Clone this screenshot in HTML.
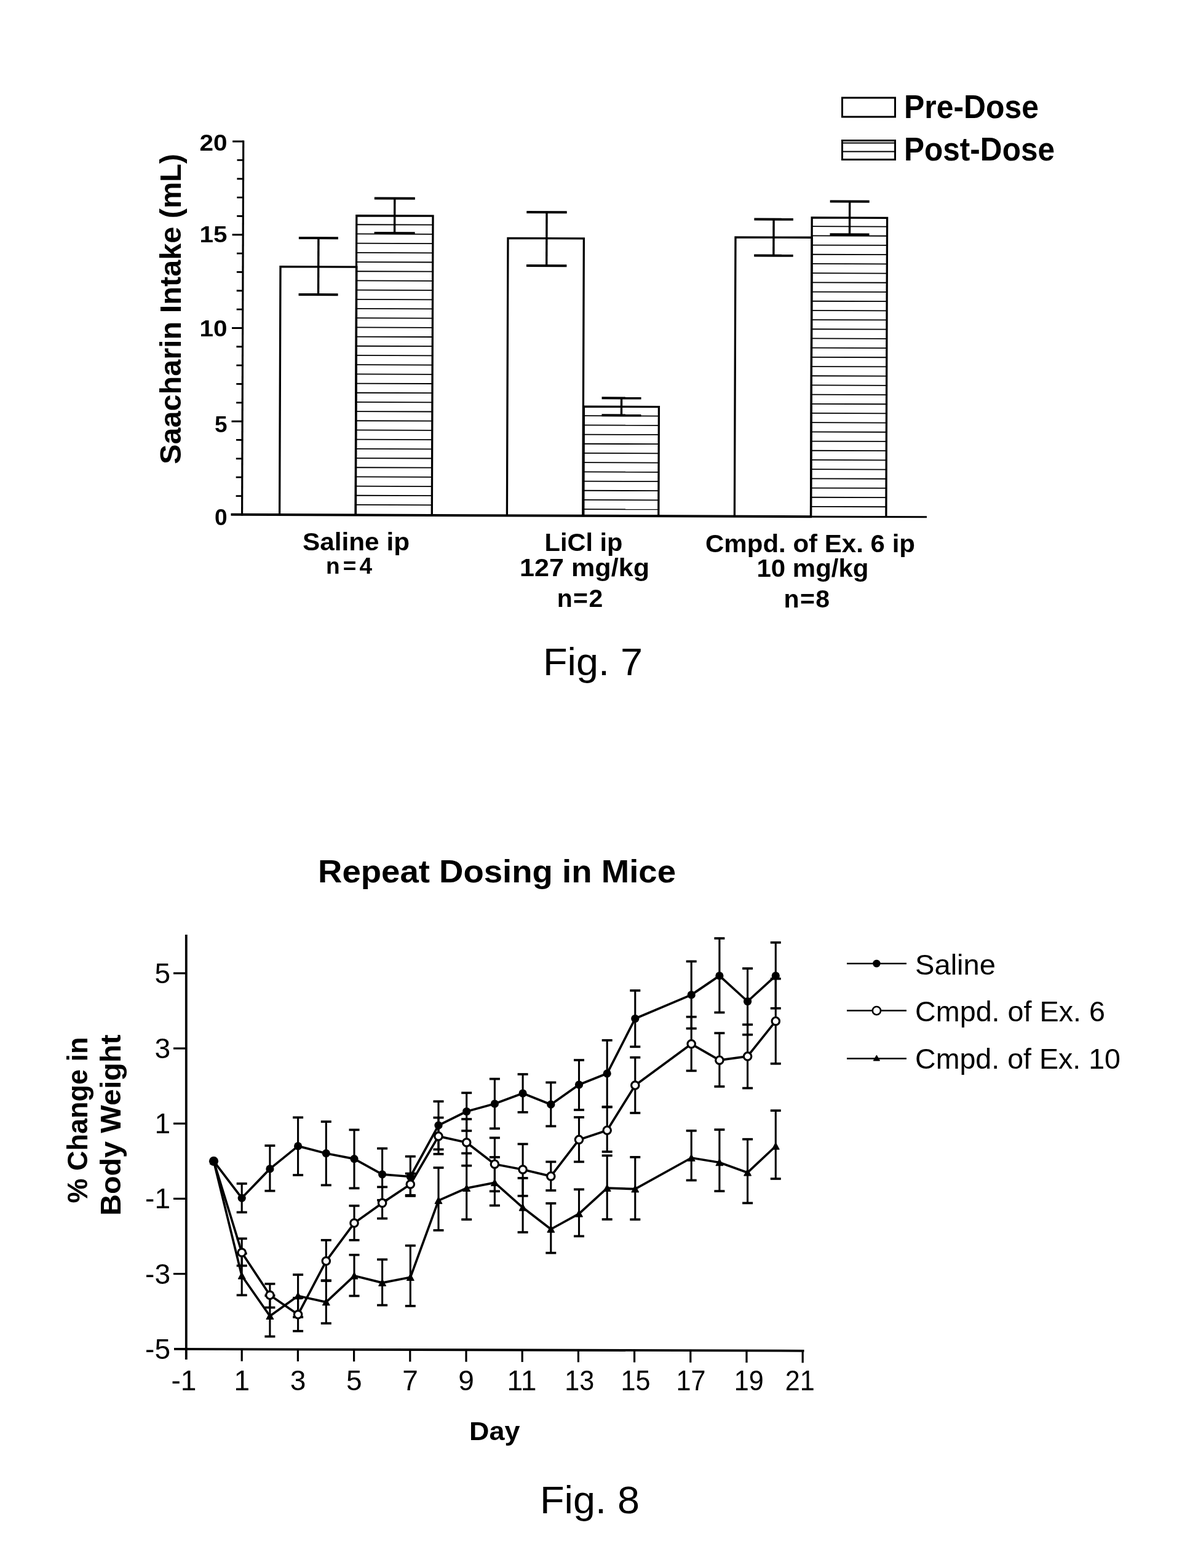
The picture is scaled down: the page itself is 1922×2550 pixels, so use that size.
<!DOCTYPE html>
<html lang="en"><head><meta charset="utf-8"><title>Fig. 7 / Fig. 8</title>
<style>html,body{margin:0;padding:0;background:#fff}svg{display:block}</style></head>
<body>
<svg width="1922" height="2550" viewBox="0 0 1922 2550" font-family='"Liberation Sans", sans-serif' fill="#000" stroke="none">
<rect width="1922" height="2550" fill="#fff"/>
<g stroke="#000" fill="none" stroke-linecap="butt" transform="rotate(0.2005 393.6 836.9)">
<line x1="393.6" y1="228.6" x2="393.6" y2="838.4" stroke-width="3.2"/>
<line x1="375.5" y1="836.9" x2="1320.0" y2="836.9" stroke-width="4"/>
<line x1="1320.0" y1="836.9" x2="1507.0" y2="836.9" stroke-width="3"/>
<line x1="383.5" y1="806.6" x2="393.6" y2="806.6" stroke-width="2.8"/>
<line x1="383.5" y1="776.2" x2="393.6" y2="776.2" stroke-width="2.8"/>
<line x1="383.5" y1="745.9" x2="393.6" y2="745.9" stroke-width="2.8"/>
<line x1="383.5" y1="715.5" x2="393.6" y2="715.5" stroke-width="2.8"/>
<line x1="376.0" y1="685.2" x2="393.6" y2="685.2" stroke-width="3"/>
<line x1="383.5" y1="654.9" x2="393.6" y2="654.9" stroke-width="2.8"/>
<line x1="383.5" y1="624.5" x2="393.6" y2="624.5" stroke-width="2.8"/>
<line x1="383.5" y1="594.2" x2="393.6" y2="594.2" stroke-width="2.8"/>
<line x1="383.5" y1="563.8" x2="393.6" y2="563.8" stroke-width="2.8"/>
<line x1="376.0" y1="533.5" x2="393.6" y2="533.5" stroke-width="3"/>
<line x1="383.5" y1="503.2" x2="393.6" y2="503.2" stroke-width="2.8"/>
<line x1="383.5" y1="472.8" x2="393.6" y2="472.8" stroke-width="2.8"/>
<line x1="383.5" y1="442.5" x2="393.6" y2="442.5" stroke-width="2.8"/>
<line x1="383.5" y1="412.1" x2="393.6" y2="412.1" stroke-width="2.8"/>
<line x1="376.0" y1="381.8" x2="393.6" y2="381.8" stroke-width="3"/>
<line x1="383.5" y1="351.5" x2="393.6" y2="351.5" stroke-width="2.8"/>
<line x1="383.5" y1="321.1" x2="393.6" y2="321.1" stroke-width="2.8"/>
<line x1="383.5" y1="290.8" x2="393.6" y2="290.8" stroke-width="2.8"/>
<line x1="383.5" y1="260.4" x2="393.6" y2="260.4" stroke-width="2.8"/>
<line x1="376.0" y1="230.1" x2="393.6" y2="230.1" stroke-width="3"/>
<path d="M454.6 836.9V433.4H578.4V836.9" stroke-width="3.3" stroke-linejoin="miter"/>
<line x1="578.1" y1="820.3" x2="702.3" y2="820.3" stroke-width="1.8"/>
<line x1="578.1" y1="805.1" x2="702.3" y2="805.1" stroke-width="1.8"/>
<line x1="578.1" y1="790.0" x2="702.3" y2="790.0" stroke-width="1.8"/>
<line x1="578.1" y1="774.8" x2="702.3" y2="774.8" stroke-width="1.8"/>
<line x1="578.1" y1="759.6" x2="702.3" y2="759.6" stroke-width="1.8"/>
<line x1="578.1" y1="744.4" x2="702.3" y2="744.4" stroke-width="1.8"/>
<line x1="578.1" y1="729.2" x2="702.3" y2="729.2" stroke-width="1.8"/>
<line x1="578.1" y1="714.0" x2="702.3" y2="714.0" stroke-width="1.8"/>
<line x1="578.1" y1="698.8" x2="702.3" y2="698.8" stroke-width="1.8"/>
<line x1="578.1" y1="683.6" x2="702.3" y2="683.6" stroke-width="1.8"/>
<line x1="578.1" y1="668.4" x2="702.3" y2="668.4" stroke-width="1.8"/>
<line x1="578.1" y1="653.2" x2="702.3" y2="653.2" stroke-width="1.8"/>
<line x1="578.1" y1="638.1" x2="702.3" y2="638.1" stroke-width="1.8"/>
<line x1="578.1" y1="622.9" x2="702.3" y2="622.9" stroke-width="1.8"/>
<line x1="578.1" y1="607.7" x2="702.3" y2="607.7" stroke-width="1.8"/>
<line x1="578.1" y1="592.5" x2="702.3" y2="592.5" stroke-width="1.8"/>
<line x1="578.1" y1="577.3" x2="702.3" y2="577.3" stroke-width="1.8"/>
<line x1="578.1" y1="562.1" x2="702.3" y2="562.1" stroke-width="1.8"/>
<line x1="578.1" y1="546.9" x2="702.3" y2="546.9" stroke-width="1.8"/>
<line x1="578.1" y1="531.7" x2="702.3" y2="531.7" stroke-width="1.8"/>
<line x1="578.1" y1="516.5" x2="702.3" y2="516.5" stroke-width="1.8"/>
<line x1="578.1" y1="501.3" x2="702.3" y2="501.3" stroke-width="1.8"/>
<line x1="578.1" y1="486.2" x2="702.3" y2="486.2" stroke-width="1.8"/>
<line x1="578.1" y1="471.0" x2="702.3" y2="471.0" stroke-width="1.8"/>
<line x1="578.1" y1="455.8" x2="702.3" y2="455.8" stroke-width="1.8"/>
<line x1="578.1" y1="440.6" x2="702.3" y2="440.6" stroke-width="1.8"/>
<line x1="578.1" y1="425.4" x2="702.3" y2="425.4" stroke-width="1.8"/>
<line x1="578.1" y1="410.2" x2="702.3" y2="410.2" stroke-width="1.8"/>
<line x1="578.1" y1="395.0" x2="702.3" y2="395.0" stroke-width="1.8"/>
<line x1="578.1" y1="379.8" x2="702.3" y2="379.8" stroke-width="1.8"/>
<line x1="578.1" y1="364.6" x2="702.3" y2="364.6" stroke-width="1.8"/>
<path d="M578.1 836.9V350.1H702.3V836.9" stroke-width="3.3" stroke-linejoin="miter"/>
<path d="M824.4 836.9V385.9H947.8V836.9" stroke-width="3.3" stroke-linejoin="miter"/>
<line x1="948.8" y1="826.1" x2="1070.8" y2="826.1" stroke-width="1.8"/>
<line x1="948.8" y1="811.0" x2="1070.8" y2="811.0" stroke-width="1.8"/>
<line x1="948.8" y1="795.8" x2="1070.8" y2="795.8" stroke-width="1.8"/>
<line x1="948.8" y1="780.6" x2="1070.8" y2="780.6" stroke-width="1.8"/>
<line x1="948.8" y1="765.4" x2="1070.8" y2="765.4" stroke-width="1.8"/>
<line x1="948.8" y1="750.2" x2="1070.8" y2="750.2" stroke-width="1.8"/>
<line x1="948.8" y1="735.0" x2="1070.8" y2="735.0" stroke-width="1.8"/>
<line x1="948.8" y1="719.8" x2="1070.8" y2="719.8" stroke-width="1.8"/>
<line x1="948.8" y1="704.6" x2="1070.8" y2="704.6" stroke-width="1.8"/>
<line x1="948.8" y1="689.4" x2="1070.8" y2="689.4" stroke-width="1.8"/>
<line x1="948.8" y1="674.2" x2="1070.8" y2="674.2" stroke-width="1.8"/>
<path d="M948.8 836.9V659.2H1070.8V836.9" stroke-width="3.3" stroke-linejoin="miter"/>
<path d="M1194.4 836.9V383.0H1318.6V836.9" stroke-width="3.3" stroke-linejoin="miter"/>
<line x1="1318.5" y1="820.6" x2="1440.9" y2="820.6" stroke-width="1.8"/>
<line x1="1318.5" y1="805.5" x2="1440.9" y2="805.5" stroke-width="1.8"/>
<line x1="1318.5" y1="790.3" x2="1440.9" y2="790.3" stroke-width="1.8"/>
<line x1="1318.5" y1="775.1" x2="1440.9" y2="775.1" stroke-width="1.8"/>
<line x1="1318.5" y1="759.9" x2="1440.9" y2="759.9" stroke-width="1.8"/>
<line x1="1318.5" y1="744.7" x2="1440.9" y2="744.7" stroke-width="1.8"/>
<line x1="1318.5" y1="729.5" x2="1440.9" y2="729.5" stroke-width="1.8"/>
<line x1="1318.5" y1="714.3" x2="1440.9" y2="714.3" stroke-width="1.8"/>
<line x1="1318.5" y1="699.1" x2="1440.9" y2="699.1" stroke-width="1.8"/>
<line x1="1318.5" y1="683.9" x2="1440.9" y2="683.9" stroke-width="1.8"/>
<line x1="1318.5" y1="668.7" x2="1440.9" y2="668.7" stroke-width="1.8"/>
<line x1="1318.5" y1="653.6" x2="1440.9" y2="653.6" stroke-width="1.8"/>
<line x1="1318.5" y1="638.4" x2="1440.9" y2="638.4" stroke-width="1.8"/>
<line x1="1318.5" y1="623.2" x2="1440.9" y2="623.2" stroke-width="1.8"/>
<line x1="1318.5" y1="608.0" x2="1440.9" y2="608.0" stroke-width="1.8"/>
<line x1="1318.5" y1="592.8" x2="1440.9" y2="592.8" stroke-width="1.8"/>
<line x1="1318.5" y1="577.6" x2="1440.9" y2="577.6" stroke-width="1.8"/>
<line x1="1318.5" y1="562.4" x2="1440.9" y2="562.4" stroke-width="1.8"/>
<line x1="1318.5" y1="547.2" x2="1440.9" y2="547.2" stroke-width="1.8"/>
<line x1="1318.5" y1="532.0" x2="1440.9" y2="532.0" stroke-width="1.8"/>
<line x1="1318.5" y1="516.8" x2="1440.9" y2="516.8" stroke-width="1.8"/>
<line x1="1318.5" y1="501.7" x2="1440.9" y2="501.7" stroke-width="1.8"/>
<line x1="1318.5" y1="486.5" x2="1440.9" y2="486.5" stroke-width="1.8"/>
<line x1="1318.5" y1="471.3" x2="1440.9" y2="471.3" stroke-width="1.8"/>
<line x1="1318.5" y1="456.1" x2="1440.9" y2="456.1" stroke-width="1.8"/>
<line x1="1318.5" y1="440.9" x2="1440.9" y2="440.9" stroke-width="1.8"/>
<line x1="1318.5" y1="425.7" x2="1440.9" y2="425.7" stroke-width="1.8"/>
<line x1="1318.5" y1="410.5" x2="1440.9" y2="410.5" stroke-width="1.8"/>
<line x1="1318.5" y1="395.3" x2="1440.9" y2="395.3" stroke-width="1.8"/>
<line x1="1318.5" y1="380.1" x2="1440.9" y2="380.1" stroke-width="1.8"/>
<line x1="1318.5" y1="364.9" x2="1440.9" y2="364.9" stroke-width="1.8"/>
<path d="M1318.5 836.9V350.7H1440.9V836.9" stroke-width="3.3" stroke-linejoin="miter"/>
<line x1="516.3" y1="386.6" x2="516.3" y2="478.6" stroke-width="3.4"/>
<line x1="484.3" y1="386.6" x2="548.3" y2="386.6" stroke-width="4"/>
<line x1="484.3" y1="478.6" x2="548.3" y2="478.6" stroke-width="4"/>
<line x1="640.0" y1="321.8" x2="640.0" y2="378.2" stroke-width="3.4"/>
<line x1="607.0" y1="321.8" x2="673.0" y2="321.8" stroke-width="4"/>
<line x1="607.0" y1="378.2" x2="673.0" y2="378.2" stroke-width="4"/>
<line x1="887.3" y1="343.3" x2="887.3" y2="430.5" stroke-width="3.4"/>
<line x1="854.6" y1="343.3" x2="920.0" y2="343.3" stroke-width="4"/>
<line x1="854.6" y1="430.5" x2="920.0" y2="430.5" stroke-width="4"/>
<line x1="1009.9" y1="645.3" x2="1009.9" y2="673.3" stroke-width="3.4"/>
<line x1="977.9" y1="645.3" x2="1041.9" y2="645.3" stroke-width="4"/>
<line x1="977.9" y1="673.3" x2="1041.9" y2="673.3" stroke-width="4"/>
<line x1="1256.4" y1="353.7" x2="1256.4" y2="412.7" stroke-width="3.4"/>
<line x1="1224.7" y1="353.7" x2="1288.2" y2="353.7" stroke-width="4"/>
<line x1="1224.7" y1="412.7" x2="1288.2" y2="412.7" stroke-width="4"/>
<line x1="1379.9" y1="324.2" x2="1379.9" y2="378.0" stroke-width="3.4"/>
<line x1="1347.9" y1="324.2" x2="1411.9" y2="324.2" stroke-width="4"/>
<line x1="1347.9" y1="378.0" x2="1411.9" y2="378.0" stroke-width="4"/>
</g>
<g stroke="#000" fill="none">
<rect x="1369.5" y="159" width="86" height="31" stroke-width="3"/>
<rect x="1369.5" y="228.5" width="86" height="31" stroke-width="3"/>
<line x1="1369.5" y1="232.5" x2="1455.5" y2="232.5" stroke-width="1.8"/>
<line x1="1369.5" y1="246.5" x2="1455.5" y2="246.5" stroke-width="1.8"/>
</g>
<text x="1470" y="191.5" font-size="53.5" font-weight="bold" textLength="219" lengthAdjust="spacingAndGlyphs">Pre-Dose</text>
<text x="1470" y="260.5" font-size="53.5" font-weight="bold" textLength="245" lengthAdjust="spacingAndGlyphs">Post-Dose</text>
<text x="369.5" y="244.9" font-size="37" font-weight="bold" text-anchor="end" textLength="45" lengthAdjust="spacingAndGlyphs">20</text>
<text x="369.5" y="394.2" font-size="37" font-weight="bold" text-anchor="end" textLength="45" lengthAdjust="spacingAndGlyphs">15</text>
<text x="369.5" y="546.5" font-size="37" font-weight="bold" text-anchor="end" textLength="45" lengthAdjust="spacingAndGlyphs">10</text>
<text x="369.5" y="702.9" font-size="37" font-weight="bold" text-anchor="end">5</text>
<text x="369.5" y="853.9" font-size="37" font-weight="bold" text-anchor="end">0</text>
<text x="294.2" y="755" font-size="49" font-weight="bold" textLength="505" lengthAdjust="spacingAndGlyphs" transform="rotate(-90 294.2 755)">Saacharin Intake (mL)</text>
<text x="492" y="895" font-size="40" font-weight="bold" textLength="174" lengthAdjust="spacingAndGlyphs">Saline ip</text>
<text x="530" y="932.8" font-size="37" font-weight="bold" textLength="75" lengthAdjust="spacing">n=4</text>
<text x="885.5" y="896.4" font-size="40" font-weight="bold" textLength="127" lengthAdjust="spacingAndGlyphs">LiCl ip</text>
<text x="845" y="937" font-size="40" font-weight="bold" textLength="211" lengthAdjust="spacingAndGlyphs">127 mg/kg</text>
<text x="905.7" y="986.8" font-size="41" font-weight="bold" textLength="74.5" lengthAdjust="spacing">n=2</text>
<text x="1147" y="897.9" font-size="40" font-weight="bold" textLength="341" lengthAdjust="spacingAndGlyphs">Cmpd. of Ex. 6 ip</text>
<text x="1230.5" y="938.4" font-size="40" font-weight="bold" textLength="182" lengthAdjust="spacingAndGlyphs">10 mg/kg</text>
<text x="1274.5" y="987.9" font-size="41" font-weight="bold" textLength="74.5" lengthAdjust="spacing">n=8</text>
<text x="883" y="1098.3" font-size="63.5" textLength="162" lengthAdjust="spacingAndGlyphs">Fig. 7</text>
<text x="517" y="1435" font-size="52" font-weight="bold" textLength="582" lengthAdjust="spacingAndGlyphs">Repeat Dosing in Mice</text>
<g stroke="#000" fill="none">
<line x1="302.8" y1="1520.0" x2="302.8" y2="2211.0" stroke-width="3.8"/>
<line x1="283.0" y1="2193.9" x2="1307.5" y2="2196.8" stroke-width="3.8"/>
<line x1="282.0" y1="1582.8" x2="303.0" y2="1582.8" stroke-width="3.2"/>
<line x1="282.0" y1="1705.0" x2="303.0" y2="1705.0" stroke-width="3.2"/>
<line x1="282.0" y1="1827.2" x2="303.0" y2="1827.2" stroke-width="3.2"/>
<line x1="282.0" y1="1949.4" x2="303.0" y2="1949.4" stroke-width="3.2"/>
<line x1="282.0" y1="2071.6" x2="303.0" y2="2071.6" stroke-width="3.2"/>
<line x1="393.2" y1="2194.2" x2="393.2" y2="2213.7" stroke-width="3.2"/>
<line x1="484.4" y1="2194.5" x2="484.4" y2="2214.0" stroke-width="3.2"/>
<line x1="575.6" y1="2194.7" x2="575.6" y2="2214.2" stroke-width="3.2"/>
<line x1="666.8" y1="2195.0" x2="666.8" y2="2214.5" stroke-width="3.2"/>
<line x1="758.0" y1="2195.2" x2="758.0" y2="2214.7" stroke-width="3.2"/>
<line x1="849.2" y1="2195.5" x2="849.2" y2="2215.0" stroke-width="3.2"/>
<line x1="940.4" y1="2195.8" x2="940.4" y2="2215.3" stroke-width="3.2"/>
<line x1="1031.6" y1="2196.0" x2="1031.6" y2="2215.5" stroke-width="3.2"/>
<line x1="1122.8" y1="2196.3" x2="1122.8" y2="2215.8" stroke-width="3.2"/>
<line x1="1214.0" y1="2196.5" x2="1214.0" y2="2216.0" stroke-width="3.2"/>
<line x1="1305.2" y1="2196.8" x2="1305.2" y2="2216.3" stroke-width="3.2"/>
</g>
<text x="277" y="1598.8" font-size="46" text-anchor="end">5</text>
<text x="277" y="1721.0" font-size="46" text-anchor="end">3</text>
<text x="277" y="1843.2" font-size="46" text-anchor="end">1</text>
<text x="277" y="1965.3999999999999" font-size="46" text-anchor="end">-1</text>
<text x="277" y="2087.6" font-size="46" text-anchor="end">-3</text>
<text x="277" y="2209.8" font-size="46" text-anchor="end">-5</text>
<text x="299" y="2260.6" font-size="46" text-anchor="middle">-1</text>
<text x="393.2" y="2260.6" font-size="46" text-anchor="middle">1</text>
<text x="484.6" y="2260.6" font-size="46" text-anchor="middle">3</text>
<text x="575.7" y="2260.6" font-size="46" text-anchor="middle">5</text>
<text x="667" y="2260.6" font-size="46" text-anchor="middle">7</text>
<text x="758" y="2260.6" font-size="46" text-anchor="middle">9</text>
<text x="848.4" y="2260.6" font-size="46" text-anchor="middle" textLength="48" lengthAdjust="spacingAndGlyphs">11</text>
<text x="942.3" y="2260.6" font-size="46" text-anchor="middle" textLength="48" lengthAdjust="spacingAndGlyphs">13</text>
<text x="1033.6" y="2260.6" font-size="46" text-anchor="middle" textLength="48" lengthAdjust="spacingAndGlyphs">15</text>
<text x="1123.6" y="2260.6" font-size="46" text-anchor="middle" textLength="48" lengthAdjust="spacingAndGlyphs">17</text>
<text x="1217.7" y="2260.6" font-size="46" text-anchor="middle" textLength="48" lengthAdjust="spacingAndGlyphs">19</text>
<text x="1300.8" y="2260.6" font-size="46" text-anchor="middle" textLength="48" lengthAdjust="spacingAndGlyphs">21</text>
<text x="763" y="2341.5" font-size="42" font-weight="bold" textLength="82.5" lengthAdjust="spacingAndGlyphs">Day</text>
<text x="878" y="2461" font-size="63.5" textLength="162" lengthAdjust="spacingAndGlyphs">Fig. 8</text>
<text x="142.3" y="1956.5" font-size="46" font-weight="bold" textLength="270" lengthAdjust="spacingAndGlyphs" transform="rotate(-90 142.3 1956.5)">% Change in</text>
<text x="196" y="1977" font-size="46" font-weight="bold" textLength="294.5" lengthAdjust="spacingAndGlyphs" transform="rotate(-90 196 1977)">Body Weight</text>
<g stroke="#000" fill="none" stroke-linejoin="round">
<line x1="393.2" y1="1924.9" x2="393.2" y2="1971.5" stroke-width="3.1"/>
<line x1="384.7" y1="1924.9" x2="401.7" y2="1924.9" stroke-width="3.7"/>
<line x1="384.7" y1="1971.5" x2="401.7" y2="1971.5" stroke-width="3.7"/>
<line x1="438.9" y1="1863.1" x2="438.9" y2="1936.7" stroke-width="3.1"/>
<line x1="430.4" y1="1863.1" x2="447.4" y2="1863.1" stroke-width="3.7"/>
<line x1="430.4" y1="1936.7" x2="447.4" y2="1936.7" stroke-width="3.7"/>
<line x1="484.6" y1="1817.3" x2="484.6" y2="1911.0" stroke-width="3.1"/>
<line x1="476.1" y1="1817.3" x2="493.1" y2="1817.3" stroke-width="3.7"/>
<line x1="476.1" y1="1911.0" x2="493.1" y2="1911.0" stroke-width="3.7"/>
<line x1="530.3" y1="1824.1" x2="530.3" y2="1927.4" stroke-width="3.1"/>
<line x1="521.8" y1="1824.1" x2="538.8" y2="1824.1" stroke-width="3.7"/>
<line x1="521.8" y1="1927.4" x2="538.8" y2="1927.4" stroke-width="3.7"/>
<line x1="576.0" y1="1837.4" x2="576.0" y2="1932.4" stroke-width="3.1"/>
<line x1="567.5" y1="1837.4" x2="584.5" y2="1837.4" stroke-width="3.7"/>
<line x1="567.5" y1="1932.4" x2="584.5" y2="1932.4" stroke-width="3.7"/>
<line x1="621.6" y1="1867.7" x2="621.6" y2="1951.8" stroke-width="3.1"/>
<line x1="613.1" y1="1867.7" x2="630.1" y2="1867.7" stroke-width="3.7"/>
<line x1="613.1" y1="1951.8" x2="630.1" y2="1951.8" stroke-width="3.7"/>
<line x1="667.3" y1="1880.7" x2="667.3" y2="1945.0" stroke-width="3.1"/>
<line x1="658.8" y1="1880.7" x2="675.8" y2="1880.7" stroke-width="3.7"/>
<line x1="658.8" y1="1945.0" x2="675.8" y2="1945.0" stroke-width="3.7"/>
<line x1="713.0" y1="1791.2" x2="713.0" y2="1869.3" stroke-width="3.1"/>
<line x1="704.5" y1="1791.2" x2="721.5" y2="1791.2" stroke-width="3.7"/>
<line x1="704.5" y1="1869.3" x2="721.5" y2="1869.3" stroke-width="3.7"/>
<line x1="758.7" y1="1777.3" x2="758.7" y2="1839.0" stroke-width="3.1"/>
<line x1="750.2" y1="1777.3" x2="767.2" y2="1777.3" stroke-width="3.7"/>
<line x1="750.2" y1="1839.0" x2="767.2" y2="1839.0" stroke-width="3.7"/>
<line x1="804.4" y1="1754.6" x2="804.4" y2="1835.3" stroke-width="3.1"/>
<line x1="795.9" y1="1754.6" x2="812.9" y2="1754.6" stroke-width="3.7"/>
<line x1="795.9" y1="1835.3" x2="812.9" y2="1835.3" stroke-width="3.7"/>
<line x1="850.1" y1="1747.0" x2="850.1" y2="1808.8" stroke-width="3.1"/>
<line x1="841.6" y1="1747.0" x2="858.6" y2="1747.0" stroke-width="3.7"/>
<line x1="841.6" y1="1808.8" x2="858.6" y2="1808.8" stroke-width="3.7"/>
<line x1="895.8" y1="1760.4" x2="895.8" y2="1831.5" stroke-width="3.1"/>
<line x1="887.3" y1="1760.4" x2="904.3" y2="1760.4" stroke-width="3.7"/>
<line x1="887.3" y1="1831.5" x2="904.3" y2="1831.5" stroke-width="3.7"/>
<line x1="941.5" y1="1724.0" x2="941.5" y2="1805.0" stroke-width="3.1"/>
<line x1="933.0" y1="1724.0" x2="950.0" y2="1724.0" stroke-width="3.7"/>
<line x1="933.0" y1="1805.0" x2="950.0" y2="1805.0" stroke-width="3.7"/>
<line x1="987.2" y1="1691.8" x2="987.2" y2="1800.5" stroke-width="3.1"/>
<line x1="978.7" y1="1691.8" x2="995.7" y2="1691.8" stroke-width="3.7"/>
<line x1="978.7" y1="1800.5" x2="995.7" y2="1800.5" stroke-width="3.7"/>
<line x1="1032.8" y1="1610.9" x2="1032.8" y2="1702.3" stroke-width="3.1"/>
<line x1="1024.3" y1="1610.9" x2="1041.3" y2="1610.9" stroke-width="3.7"/>
<line x1="1024.3" y1="1702.3" x2="1041.3" y2="1702.3" stroke-width="3.7"/>
<line x1="1124.2" y1="1563.5" x2="1124.2" y2="1672.6" stroke-width="3.1"/>
<line x1="1115.7" y1="1563.5" x2="1132.7" y2="1563.5" stroke-width="3.7"/>
<line x1="1115.7" y1="1672.6" x2="1132.7" y2="1672.6" stroke-width="3.7"/>
<line x1="1169.9" y1="1526.0" x2="1169.9" y2="1646.6" stroke-width="3.1"/>
<line x1="1161.4" y1="1526.0" x2="1178.4" y2="1526.0" stroke-width="3.7"/>
<line x1="1161.4" y1="1646.6" x2="1178.4" y2="1646.6" stroke-width="3.7"/>
<line x1="1215.6" y1="1575.0" x2="1215.6" y2="1682.7" stroke-width="3.1"/>
<line x1="1207.1" y1="1575.0" x2="1224.1" y2="1575.0" stroke-width="3.7"/>
<line x1="1207.1" y1="1682.7" x2="1224.1" y2="1682.7" stroke-width="3.7"/>
<line x1="1261.3" y1="1532.8" x2="1261.3" y2="1639.8" stroke-width="3.1"/>
<line x1="1252.8" y1="1532.8" x2="1269.8" y2="1532.8" stroke-width="3.7"/>
<line x1="1252.8" y1="1639.8" x2="1269.8" y2="1639.8" stroke-width="3.7"/>
<line x1="393.2" y1="2014.3" x2="393.2" y2="2058.4" stroke-width="3.1"/>
<line x1="384.7" y1="2014.3" x2="401.7" y2="2014.3" stroke-width="3.7"/>
<line x1="384.7" y1="2058.4" x2="401.7" y2="2058.4" stroke-width="3.7"/>
<line x1="438.9" y1="2087.9" x2="438.9" y2="2126.4" stroke-width="3.1"/>
<line x1="430.4" y1="2087.9" x2="447.4" y2="2087.9" stroke-width="3.7"/>
<line x1="430.4" y1="2126.4" x2="447.4" y2="2126.4" stroke-width="3.7"/>
<line x1="484.6" y1="2110.8" x2="484.6" y2="2164.7" stroke-width="3.1"/>
<line x1="476.1" y1="2110.8" x2="493.1" y2="2110.8" stroke-width="3.7"/>
<line x1="476.1" y1="2164.7" x2="493.1" y2="2164.7" stroke-width="3.7"/>
<line x1="530.3" y1="2016.8" x2="530.3" y2="2082.3" stroke-width="3.1"/>
<line x1="521.8" y1="2016.8" x2="538.8" y2="2016.8" stroke-width="3.7"/>
<line x1="521.8" y1="2082.3" x2="538.8" y2="2082.3" stroke-width="3.7"/>
<line x1="576.0" y1="1960.9" x2="576.0" y2="2016.8" stroke-width="3.1"/>
<line x1="567.5" y1="1960.9" x2="584.5" y2="1960.9" stroke-width="3.7"/>
<line x1="567.5" y1="2016.8" x2="584.5" y2="2016.8" stroke-width="3.7"/>
<line x1="621.6" y1="1930.4" x2="621.6" y2="1981.6" stroke-width="3.1"/>
<line x1="613.1" y1="1930.4" x2="630.1" y2="1930.4" stroke-width="3.7"/>
<line x1="613.1" y1="1981.6" x2="630.1" y2="1981.6" stroke-width="3.7"/>
<line x1="667.3" y1="1908.5" x2="667.3" y2="1943.8" stroke-width="3.1"/>
<line x1="658.8" y1="1908.5" x2="675.8" y2="1908.5" stroke-width="3.7"/>
<line x1="658.8" y1="1943.8" x2="675.8" y2="1943.8" stroke-width="3.7"/>
<line x1="713.0" y1="1817.6" x2="713.0" y2="1876.8" stroke-width="3.1"/>
<line x1="704.5" y1="1817.6" x2="721.5" y2="1817.6" stroke-width="3.7"/>
<line x1="704.5" y1="1876.8" x2="721.5" y2="1876.8" stroke-width="3.7"/>
<line x1="758.7" y1="1820.0" x2="758.7" y2="1895.7" stroke-width="3.1"/>
<line x1="750.2" y1="1820.0" x2="767.2" y2="1820.0" stroke-width="3.7"/>
<line x1="750.2" y1="1895.7" x2="767.2" y2="1895.7" stroke-width="3.7"/>
<line x1="804.4" y1="1850.4" x2="804.4" y2="1937.3" stroke-width="3.1"/>
<line x1="795.9" y1="1850.4" x2="812.9" y2="1850.4" stroke-width="3.7"/>
<line x1="795.9" y1="1937.3" x2="812.9" y2="1937.3" stroke-width="3.7"/>
<line x1="850.1" y1="1860.5" x2="850.1" y2="1944.9" stroke-width="3.1"/>
<line x1="841.6" y1="1860.5" x2="858.6" y2="1860.5" stroke-width="3.7"/>
<line x1="841.6" y1="1944.9" x2="858.6" y2="1944.9" stroke-width="3.7"/>
<line x1="895.8" y1="1889.4" x2="895.8" y2="1936.0" stroke-width="3.1"/>
<line x1="887.3" y1="1889.4" x2="904.3" y2="1889.4" stroke-width="3.7"/>
<line x1="887.3" y1="1936.0" x2="904.3" y2="1936.0" stroke-width="3.7"/>
<line x1="941.5" y1="1817.0" x2="941.5" y2="1889.4" stroke-width="3.1"/>
<line x1="933.0" y1="1817.0" x2="950.0" y2="1817.0" stroke-width="3.7"/>
<line x1="933.0" y1="1889.4" x2="950.0" y2="1889.4" stroke-width="3.7"/>
<line x1="987.2" y1="1800.0" x2="987.2" y2="1873.0" stroke-width="3.1"/>
<line x1="978.7" y1="1800.0" x2="995.7" y2="1800.0" stroke-width="3.7"/>
<line x1="978.7" y1="1873.0" x2="995.7" y2="1873.0" stroke-width="3.7"/>
<line x1="1032.8" y1="1719.7" x2="1032.8" y2="1810.0" stroke-width="3.1"/>
<line x1="1024.3" y1="1719.7" x2="1041.3" y2="1719.7" stroke-width="3.7"/>
<line x1="1024.3" y1="1810.0" x2="1041.3" y2="1810.0" stroke-width="3.7"/>
<line x1="1124.2" y1="1653.7" x2="1124.2" y2="1741.4" stroke-width="3.1"/>
<line x1="1115.7" y1="1653.7" x2="1132.7" y2="1653.7" stroke-width="3.7"/>
<line x1="1115.7" y1="1741.4" x2="1132.7" y2="1741.4" stroke-width="3.7"/>
<line x1="1169.9" y1="1680.1" x2="1169.9" y2="1767.0" stroke-width="3.1"/>
<line x1="1161.4" y1="1680.1" x2="1178.4" y2="1680.1" stroke-width="3.7"/>
<line x1="1161.4" y1="1767.0" x2="1178.4" y2="1767.0" stroke-width="3.7"/>
<line x1="1215.6" y1="1666.3" x2="1215.6" y2="1769.6" stroke-width="3.1"/>
<line x1="1207.1" y1="1666.3" x2="1224.1" y2="1666.3" stroke-width="3.7"/>
<line x1="1207.1" y1="1769.6" x2="1224.1" y2="1769.6" stroke-width="3.7"/>
<line x1="1261.3" y1="1591.7" x2="1261.3" y2="1729.8" stroke-width="3.1"/>
<line x1="1252.8" y1="1591.7" x2="1269.8" y2="1591.7" stroke-width="3.7"/>
<line x1="1252.8" y1="1729.8" x2="1269.8" y2="1729.8" stroke-width="3.7"/>
<line x1="393.2" y1="2038.5" x2="393.2" y2="2106.3" stroke-width="3.1"/>
<line x1="384.7" y1="2038.5" x2="401.7" y2="2038.5" stroke-width="3.7"/>
<line x1="384.7" y1="2106.3" x2="401.7" y2="2106.3" stroke-width="3.7"/>
<line x1="438.9" y1="2107.0" x2="438.9" y2="2173.5" stroke-width="3.1"/>
<line x1="430.4" y1="2107.0" x2="447.4" y2="2107.0" stroke-width="3.7"/>
<line x1="430.4" y1="2173.5" x2="447.4" y2="2173.5" stroke-width="3.7"/>
<line x1="484.6" y1="2073.0" x2="484.6" y2="2142.0" stroke-width="3.1"/>
<line x1="476.1" y1="2073.0" x2="493.1" y2="2073.0" stroke-width="3.7"/>
<line x1="476.1" y1="2142.0" x2="493.1" y2="2142.0" stroke-width="3.7"/>
<line x1="530.3" y1="2083.0" x2="530.3" y2="2152.1" stroke-width="3.1"/>
<line x1="521.8" y1="2083.0" x2="538.8" y2="2083.0" stroke-width="3.7"/>
<line x1="521.8" y1="2152.1" x2="538.8" y2="2152.1" stroke-width="3.7"/>
<line x1="576.0" y1="2040.8" x2="576.0" y2="2107.5" stroke-width="3.1"/>
<line x1="567.5" y1="2040.8" x2="584.5" y2="2040.8" stroke-width="3.7"/>
<line x1="567.5" y1="2107.5" x2="584.5" y2="2107.5" stroke-width="3.7"/>
<line x1="621.6" y1="2048.3" x2="621.6" y2="2122.6" stroke-width="3.1"/>
<line x1="613.1" y1="2048.3" x2="630.1" y2="2048.3" stroke-width="3.7"/>
<line x1="613.1" y1="2122.6" x2="630.1" y2="2122.6" stroke-width="3.7"/>
<line x1="667.3" y1="2025.7" x2="667.3" y2="2123.9" stroke-width="3.1"/>
<line x1="658.8" y1="2025.7" x2="675.8" y2="2025.7" stroke-width="3.7"/>
<line x1="658.8" y1="2123.9" x2="675.8" y2="2123.9" stroke-width="3.7"/>
<line x1="713.0" y1="1899.0" x2="713.0" y2="2000.8" stroke-width="3.1"/>
<line x1="704.5" y1="1899.0" x2="721.5" y2="1899.0" stroke-width="3.7"/>
<line x1="704.5" y1="2000.8" x2="721.5" y2="2000.8" stroke-width="3.7"/>
<line x1="758.7" y1="1875.6" x2="758.7" y2="1983.2" stroke-width="3.1"/>
<line x1="750.2" y1="1875.6" x2="767.2" y2="1875.6" stroke-width="3.7"/>
<line x1="750.2" y1="1983.2" x2="767.2" y2="1983.2" stroke-width="3.7"/>
<line x1="804.4" y1="1881.9" x2="804.4" y2="1960.5" stroke-width="3.1"/>
<line x1="795.9" y1="1881.9" x2="812.9" y2="1881.9" stroke-width="3.7"/>
<line x1="795.9" y1="1960.5" x2="812.9" y2="1960.5" stroke-width="3.7"/>
<line x1="850.1" y1="1915.9" x2="850.1" y2="2004.0" stroke-width="3.1"/>
<line x1="841.6" y1="1915.9" x2="858.6" y2="1915.9" stroke-width="3.7"/>
<line x1="841.6" y1="2004.0" x2="858.6" y2="2004.0" stroke-width="3.7"/>
<line x1="895.8" y1="1957.0" x2="895.8" y2="2037.6" stroke-width="3.1"/>
<line x1="887.3" y1="1957.0" x2="904.3" y2="1957.0" stroke-width="3.7"/>
<line x1="887.3" y1="2037.6" x2="904.3" y2="2037.6" stroke-width="3.7"/>
<line x1="941.5" y1="1934.3" x2="941.5" y2="2010.4" stroke-width="3.1"/>
<line x1="933.0" y1="1934.3" x2="950.0" y2="1934.3" stroke-width="3.7"/>
<line x1="933.0" y1="2010.4" x2="950.0" y2="2010.4" stroke-width="3.7"/>
<line x1="987.2" y1="1879.3" x2="987.2" y2="1983.0" stroke-width="3.1"/>
<line x1="978.7" y1="1879.3" x2="995.7" y2="1879.3" stroke-width="3.7"/>
<line x1="978.7" y1="1983.0" x2="995.7" y2="1983.0" stroke-width="3.7"/>
<line x1="1032.8" y1="1881.8" x2="1032.8" y2="1983.2" stroke-width="3.1"/>
<line x1="1024.3" y1="1881.8" x2="1041.3" y2="1881.8" stroke-width="3.7"/>
<line x1="1024.3" y1="1983.2" x2="1041.3" y2="1983.2" stroke-width="3.7"/>
<line x1="1124.2" y1="1838.9" x2="1124.2" y2="1919.5" stroke-width="3.1"/>
<line x1="1115.7" y1="1838.9" x2="1132.7" y2="1838.9" stroke-width="3.7"/>
<line x1="1115.7" y1="1919.5" x2="1132.7" y2="1919.5" stroke-width="3.7"/>
<line x1="1169.9" y1="1837.1" x2="1169.9" y2="1937.1" stroke-width="3.1"/>
<line x1="1161.4" y1="1837.1" x2="1178.4" y2="1837.1" stroke-width="3.7"/>
<line x1="1161.4" y1="1937.1" x2="1178.4" y2="1937.1" stroke-width="3.7"/>
<line x1="1215.6" y1="1852.7" x2="1215.6" y2="1956.5" stroke-width="3.1"/>
<line x1="1207.1" y1="1852.7" x2="1224.1" y2="1852.7" stroke-width="3.7"/>
<line x1="1207.1" y1="1956.5" x2="1224.1" y2="1956.5" stroke-width="3.7"/>
<line x1="1261.3" y1="1806.1" x2="1261.3" y2="1917.0" stroke-width="3.1"/>
<line x1="1252.8" y1="1806.1" x2="1269.8" y2="1806.1" stroke-width="3.7"/>
<line x1="1252.8" y1="1917.0" x2="1269.8" y2="1917.0" stroke-width="3.7"/>
<polyline points="347.5,1888.3 393.2,1948.3 438.9,1900.9 484.6,1863.9 530.3,1875.7 576.0,1884.6 621.6,1909.8 667.3,1913.5 713.0,1830.2 758.7,1807.5 804.4,1795.0 850.1,1778.0 895.8,1796.2 941.5,1764.0 987.2,1745.8 1032.8,1656.5 1124.2,1617.9 1169.9,1586.9 1215.6,1628.5 1261.3,1586.9" stroke-width="3.7"/>
<polyline points="347.5,1888.3 393.2,2037.0 438.9,2106.3 484.6,2137.8 530.3,2050.8 576.0,1989.1 621.6,1956.4 667.3,1926.0 713.0,1847.9 758.7,1858.0 804.4,1893.2 850.1,1902.0 895.8,1912.9 941.5,1853.4 987.2,1838.2 1032.8,1765.1 1124.2,1697.8 1169.9,1724.2 1215.6,1717.9 1261.3,1660.7" stroke-width="3.7"/>
<polyline points="347.5,1888.3 393.2,2074.8 438.9,2140.3 484.6,2107.5 530.3,2117.6 576.0,2074.8 621.6,2086.1 667.3,2077.3 713.0,1952.4 758.7,1932.3 804.4,1923.4 850.1,1963.8 895.8,1999.0 941.5,1973.8 987.2,1932.2 1032.8,1933.7 1124.2,1883.0 1169.9,1890.5 1215.6,1906.9 1261.3,1864.0" stroke-width="3.7"/>
</g>
<g stroke="#000">
<path d="M347.5 1882.3L353.5 1893.5H341.5Z" fill="#000" stroke-width="1"/>
<path d="M393.2 2068.8L399.2 2080.0H387.2Z" fill="#000" stroke-width="1"/>
<path d="M438.9 2134.3L444.9 2145.5H432.9Z" fill="#000" stroke-width="1"/>
<path d="M484.6 2101.5L490.6 2112.7H478.6Z" fill="#000" stroke-width="1"/>
<path d="M530.3 2111.6L536.3 2122.8H524.3Z" fill="#000" stroke-width="1"/>
<path d="M576.0 2068.8L582.0 2080.0H570.0Z" fill="#000" stroke-width="1"/>
<path d="M621.6 2080.1L627.6 2091.3H615.6Z" fill="#000" stroke-width="1"/>
<path d="M667.3 2071.3L673.3 2082.5H661.3Z" fill="#000" stroke-width="1"/>
<path d="M713.0 1946.4L719.0 1957.6H707.0Z" fill="#000" stroke-width="1"/>
<path d="M758.7 1926.3L764.7 1937.5H752.7Z" fill="#000" stroke-width="1"/>
<path d="M804.4 1917.4L810.4 1928.6H798.4Z" fill="#000" stroke-width="1"/>
<path d="M850.1 1957.8L856.1 1969.0H844.1Z" fill="#000" stroke-width="1"/>
<path d="M895.8 1993.0L901.8 2004.2H889.8Z" fill="#000" stroke-width="1"/>
<path d="M941.5 1967.8L947.5 1979.0H935.5Z" fill="#000" stroke-width="1"/>
<path d="M987.2 1926.2L993.2 1937.4H981.2Z" fill="#000" stroke-width="1"/>
<path d="M1032.8 1927.7L1038.8 1938.9H1026.8Z" fill="#000" stroke-width="1"/>
<path d="M1124.2 1877.0L1130.2 1888.2H1118.2Z" fill="#000" stroke-width="1"/>
<path d="M1169.9 1884.5L1175.9 1895.7H1163.9Z" fill="#000" stroke-width="1"/>
<path d="M1215.6 1900.9L1221.6 1912.1H1209.6Z" fill="#000" stroke-width="1"/>
<path d="M1261.3 1858.0L1267.3 1869.2H1255.3Z" fill="#000" stroke-width="1"/>
<circle cx="347.5" cy="1888.3" r="7.6" fill="#000" stroke="none"/>
<circle cx="393.2" cy="1948.3" r="6.6" fill="#000" stroke="none"/>
<circle cx="438.9" cy="1900.9" r="6.6" fill="#000" stroke="none"/>
<circle cx="484.6" cy="1863.9" r="6.6" fill="#000" stroke="none"/>
<circle cx="530.3" cy="1875.7" r="6.6" fill="#000" stroke="none"/>
<circle cx="576.0" cy="1884.6" r="6.6" fill="#000" stroke="none"/>
<circle cx="621.6" cy="1909.8" r="6.6" fill="#000" stroke="none"/>
<circle cx="667.3" cy="1913.5" r="6.6" fill="#000" stroke="none"/>
<circle cx="713.0" cy="1830.2" r="6.6" fill="#000" stroke="none"/>
<circle cx="758.7" cy="1807.5" r="6.6" fill="#000" stroke="none"/>
<circle cx="804.4" cy="1795.0" r="6.6" fill="#000" stroke="none"/>
<circle cx="850.1" cy="1778.0" r="6.6" fill="#000" stroke="none"/>
<circle cx="895.8" cy="1796.2" r="6.6" fill="#000" stroke="none"/>
<circle cx="941.5" cy="1764.0" r="6.6" fill="#000" stroke="none"/>
<circle cx="987.2" cy="1745.8" r="6.6" fill="#000" stroke="none"/>
<circle cx="1032.8" cy="1656.5" r="6.6" fill="#000" stroke="none"/>
<circle cx="1124.2" cy="1617.9" r="6.6" fill="#000" stroke="none"/>
<circle cx="1169.9" cy="1586.9" r="6.6" fill="#000" stroke="none"/>
<circle cx="1215.6" cy="1628.5" r="6.6" fill="#000" stroke="none"/>
<circle cx="1261.3" cy="1586.9" r="6.6" fill="#000" stroke="none"/>
<circle cx="393.2" cy="2037.0" r="6.2" fill="#fff" stroke-width="3.2"/>
<circle cx="438.9" cy="2106.3" r="6.2" fill="#fff" stroke-width="3.2"/>
<circle cx="484.6" cy="2137.8" r="6.2" fill="#fff" stroke-width="3.2"/>
<circle cx="530.3" cy="2050.8" r="6.2" fill="#fff" stroke-width="3.2"/>
<circle cx="576.0" cy="1989.1" r="6.2" fill="#fff" stroke-width="3.2"/>
<circle cx="621.6" cy="1956.4" r="6.2" fill="#fff" stroke-width="3.2"/>
<circle cx="667.3" cy="1926.0" r="6.2" fill="#fff" stroke-width="3.2"/>
<circle cx="713.0" cy="1847.9" r="6.2" fill="#fff" stroke-width="3.2"/>
<circle cx="758.7" cy="1858.0" r="6.2" fill="#fff" stroke-width="3.2"/>
<circle cx="804.4" cy="1893.2" r="6.2" fill="#fff" stroke-width="3.2"/>
<circle cx="850.1" cy="1902.0" r="6.2" fill="#fff" stroke-width="3.2"/>
<circle cx="895.8" cy="1912.9" r="6.2" fill="#fff" stroke-width="3.2"/>
<circle cx="941.5" cy="1853.4" r="6.2" fill="#fff" stroke-width="3.2"/>
<circle cx="987.2" cy="1838.2" r="6.2" fill="#fff" stroke-width="3.2"/>
<circle cx="1032.8" cy="1765.1" r="6.2" fill="#fff" stroke-width="3.2"/>
<circle cx="1124.2" cy="1697.8" r="6.2" fill="#fff" stroke-width="3.2"/>
<circle cx="1169.9" cy="1724.2" r="6.2" fill="#fff" stroke-width="3.2"/>
<circle cx="1215.6" cy="1717.9" r="6.2" fill="#fff" stroke-width="3.2"/>
<circle cx="1261.3" cy="1660.7" r="6.2" fill="#fff" stroke-width="3.2"/>
</g>
<g stroke="#000">
<line x1="1377.0" y1="1567.0" x2="1474.0" y2="1567.0" stroke-width="2.5"/>
<line x1="1377.0" y1="1643.6" x2="1474.0" y2="1643.6" stroke-width="2.5"/>
<line x1="1377.0" y1="1721.6" x2="1474.0" y2="1721.6" stroke-width="2.5"/>
<circle cx="1425.4" cy="1567" r="6.2" fill="#000" stroke="none"/>
<circle cx="1425.4" cy="1643.6" r="6.6" fill="#fff" stroke-width="2.6"/>
<path d="M1425.4 1716L1430.6 1725H1420.2Z" fill="#000" stroke-width="1"/>
</g>
<text x="1488" y="1584.5" font-size="46.5" textLength="131" lengthAdjust="spacingAndGlyphs">Saline</text>
<text x="1488" y="1661" font-size="46.5" textLength="309" lengthAdjust="spacingAndGlyphs">Cmpd. of Ex. 6</text>
<text x="1488" y="1738.4" font-size="46.5" textLength="334" lengthAdjust="spacingAndGlyphs">Cmpd. of Ex. 10</text>
</svg>
</body></html>
